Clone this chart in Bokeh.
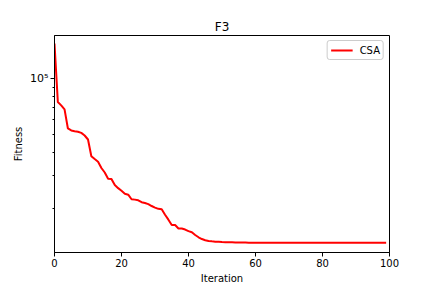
from bokeh.plotting import figure
from bokeh.models import Range1d, FixedTicker, CustomJSTickFormatter, Legend, LegendItem
from bokeh.embed import file_html
from bokeh.resources import INLINE

title = "F3"
series_name = "CSA"
x_label = "Iteration"
y_label = "Fitness"
x_ticks = [0, 20, 40, 60, 80, 100]
y_major_ticks = [1e5]
y_minor_ticks = [2e4, 3e4, 4e4, 5e4, 6e4, 7e4, 8e4, 9e4]

iterations = list(range(100))
fitness = [
    154800, 74700, 71700, 68200, 53800, 52500, 52000, 51600, 50900, 49300,
    46900, 38100, 36800, 35600, 32900, 31100, 28800, 28700, 26600, 25600,
    24800, 23900, 23600, 22300, 22200, 22000, 21500, 21300, 21000, 20500,
    20100, 19800, 19700, 18400, 17300, 16200, 16200, 15500, 15500, 15300,
    15000, 14800, 14300, 13900, 13600, 13400, 13270, 13210, 13160, 13130,
    13100, 13080, 13060, 13050, 13040, 13030, 13020, 13010, 13000, 13000,
    12990, 12990, 12990, 12990, 12990, 12990, 12990, 12990, 12990, 12990,
    12990, 12990, 12990, 12990, 12990, 12990, 12990, 12990, 12990, 12990,
    12980, 12980, 12980, 12980, 12980, 12980, 12980, 12980, 12980, 12980,
    12980, 12980, 12980, 12980, 12980, 12980, 12980, 12980, 12980, 12980,
]

FONT = "DejaVu Sans"

p = figure(width=432, height=288, y_axis_type="log",
           x_range=Range1d(0, 100), y_range=Range1d(11500, 171000),
           output_backend="svg", toolbar_location=None,
           min_border_left=54, min_border_right=43,
           min_border_top=35, min_border_bottom=36)

p.title.text = title
p.title.align = "center"
p.title.text_font = FONT
p.title.text_font_size = "12px"
p.title.text_font_style = "normal"
p.title.text_color = "black"
p.title.standoff = 4

r = p.line(iterations, fitness, line_color="#ff0000", line_width=2)

p.xgrid.visible = False
p.ygrid.visible = False
p.outline_line_color = "black"
p.outline_line_alpha = 1
p.outline_line_width = 1

p.xaxis.ticker = FixedTicker(ticks=x_ticks)
p.yaxis.ticker = FixedTicker(ticks=y_major_ticks, minor_ticks=y_minor_ticks)
p.yaxis.formatter = CustomJSTickFormatter(code="return '10\u2075';")

for ax in (p.xaxis, p.yaxis):
    ax.axis_line_color = "black"
    ax.major_tick_in = 0
    ax.major_tick_out = 4
    ax.minor_tick_in = 0
    ax.minor_tick_out = 2
    ax.major_label_text_font = FONT
    ax.major_label_text_font_size = "10px"
    ax.major_label_text_color = "black"
    ax.axis_label_text_font = FONT
    ax.axis_label_text_font_size = "10px"
    ax.axis_label_text_font_style = "normal"
    ax.axis_label_text_color = "black"
    ax.major_label_standoff = 2
    ax.axis_label_standoff = 3

p.yaxis.axis_label_standoff = 3
p.xaxis.axis_label = x_label
p.yaxis.axis_label = y_label
p.yaxis.major_label_orientation = "horizontal"
p.yaxis.major_label_text_font_size = "11px"

legend = Legend(items=[LegendItem(label=series_name, renderers=[r])],
                location="top_right")
legend.label_text_font = FONT
legend.label_text_font_size = "10px"
legend.label_text_color = "black"
legend.border_line_color = "#cccccc"
legend.border_line_alpha = 1
legend.border_radius = 3
legend.margin = 5
legend.padding = 3
legend.spacing = 0
legend.glyph_width = 22
legend.glyph_height = 12
legend.label_standoff = 7
legend.label_height = 12
p.add_layout(legend)

open("out.html", "w").write(file_html(p, INLINE))
